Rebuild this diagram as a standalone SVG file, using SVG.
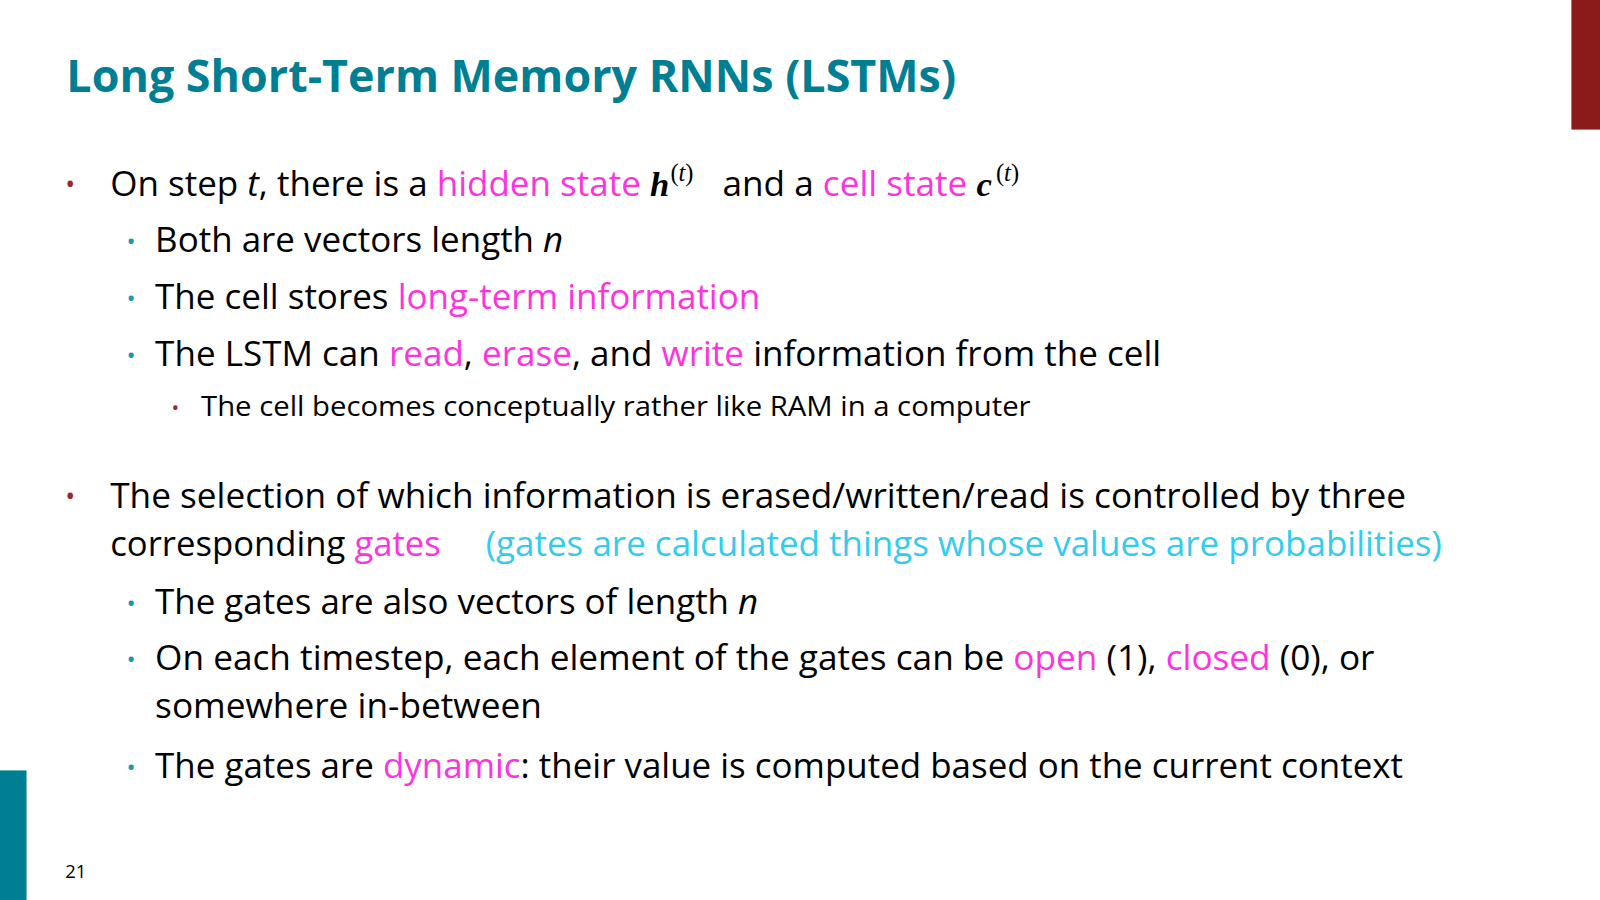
<svg xmlns="http://www.w3.org/2000/svg" width="1600" height="900" viewBox="0 0 1600 900">
<style>
text{font-family:"Open Sans","Noto Sans",sans-serif;fill:#000}
.t{font-size:34px}
.s{font-size:27px}
.m{fill:#FF33DD}
.c{fill:#33CCEE}
.b1{fill:#A0262A}
.b2{fill:#1A9AAE}
.math{font-family:"Liberation Serif",serif;font-weight:bold;font-style:italic}
.sup{font-family:"Liberation Serif",serif;font-size:24px}
</style>
<rect width="1600" height="900" fill="#fff"/>
<g transform="scale(1.0204)">
<rect x="1540" y="0" width="28" height="127" fill="#8B1A1A"/>
<rect x="0" y="755" width="26" height="127" fill="#007F94"/>
<text x="65" y="90" style="font-size:44px;font-weight:bold;fill:#007F94" textLength="872" lengthAdjust="spacingAndGlyphs">Long Short-Term Memory RNNs (LSTMs)</text>

<text x="64" y="190" class="t b1" style="font-size:26px">•</text>
<text x="108" y="192" class="t" textLength="520" lengthAdjust="spacingAndGlyphs">On step <tspan font-style="italic">t</tspan>, there is a <tspan class="m">hidden state</tspan></text>
<text x="637" y="192" class="t math">h</text>
<text x="657" y="177" class="sup">(<tspan font-style="italic">t</tspan>)</text>
<text x="708" y="192" class="t" textLength="240" lengthAdjust="spacingAndGlyphs">and a <tspan class="m">cell state</tspan></text>
<text x="957" y="192" class="t math">c</text>
<text x="976" y="177" class="sup">(<tspan font-style="italic">t</tspan>)</text>

<text x="124" y="245" class="b2" style="font-size:24px">•</text>
<text x="152" y="247" class="t" textLength="400" lengthAdjust="spacingAndGlyphs">Both are vectors length <tspan font-style="italic">n</tspan></text>
<text x="124" y="301" class="b2" style="font-size:24px">•</text>
<text x="152" y="303" class="t" textLength="593" lengthAdjust="spacingAndGlyphs">The cell stores <tspan class="m">long-term information</tspan></text>
<text x="124" y="357" class="b2" style="font-size:24px">•</text>
<text x="152" y="359" class="t" textLength="986" lengthAdjust="spacingAndGlyphs">The LSTM can <tspan class="m">read</tspan>, <tspan class="m">erase</tspan>, and <tspan class="m">write</tspan> information from the cell</text>
<text x="168" y="407" class="b1" style="font-size:20px">•</text>
<text x="197" y="408" class="s" textLength="813" lengthAdjust="spacingAndGlyphs">The cell becomes conceptually rather like RAM in a computer</text>

<text x="64" y="496" class="b1" style="font-size:26px">•</text>
<text x="108" y="498" class="t" textLength="1270" lengthAdjust="spacingAndGlyphs">The selection of which information is erased/written/read is controlled by three</text>
<text x="108" y="545" class="t" textLength="324" lengthAdjust="spacingAndGlyphs">corresponding <tspan class="m">gates</tspan></text>
<text x="476" y="545" class="t c" textLength="937" lengthAdjust="spacingAndGlyphs">(gates are calculated things whose values are probabilities)</text>

<text x="124" y="600" class="b2" style="font-size:24px">•</text>
<text x="152" y="602" class="t" textLength="591" lengthAdjust="spacingAndGlyphs">The gates are also vectors of length <tspan font-style="italic">n</tspan></text>
<text x="124" y="655" class="b2" style="font-size:24px">•</text>
<text x="152" y="657" class="t" textLength="1195" lengthAdjust="spacingAndGlyphs">On each timestep, each element of the gates can be <tspan class="m">open</tspan> (1), <tspan class="m">closed</tspan> (0), or</text>
<text x="152" y="704" class="t" textLength="379" lengthAdjust="spacingAndGlyphs">somewhere in-between</text>
<text x="124" y="760" class="b2" style="font-size:24px">•</text>
<text x="152" y="762" class="t" textLength="1223" lengthAdjust="spacingAndGlyphs">The gates are <tspan class="m">dynamic</tspan>: their value is computed based on the current context</text>

<text x="64" y="860" style="font-size:18px">21</text>
</g>
</svg>
